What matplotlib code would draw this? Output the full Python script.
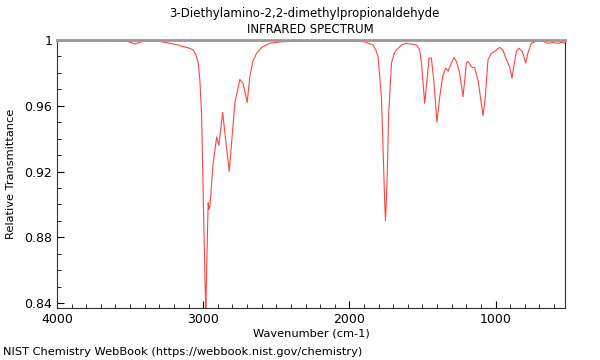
import numpy as np
import matplotlib.pyplot as plt
from matplotlib.ticker import MultipleLocator, FormatStrFormatter

# spectrum (wavenumber cm-1, relative transmittance)
wavenumber = [4000, 3800, 3600, 3520, 3467, 3420, 3364, 3300, 3228, 3180, 3137, 3100,
              3068, 3050, 3034, 3023, 3011, 3004, 2995, 2986, 2982, 2974, 2966, 2960,
              2954, 2932, 2908, 2893, 2867, 2822, 2783, 2749, 2727, 2699, 2681, 2660,
              2635, 2600, 2544, 2456, 2200, 2000, 1900, 1870, 1838, 1820, 1804, 1781,
              1770, 1758, 1753, 1742, 1731, 1712, 1695, 1678, 1640, 1610, 1541, 1519,
              1507, 1485, 1469, 1455, 1439, 1423, 1401, 1382, 1360, 1341, 1325, 1302,
              1284, 1268, 1246, 1223, 1211, 1200, 1189, 1166, 1143, 1120, 1104, 1086,
              1070, 1052, 1029, 1006, 972, 950, 926, 904, 888, 876, 858, 840, 817, 794,
              779, 755, 699, 642, 608, 574, 550, 525]
transmittance = [0.9995, 0.9998, 0.9996, 0.9992, 0.9976, 0.9990, 0.9998, 0.9992, 0.998,
                 0.9972, 0.996, 0.9952, 0.994, 0.991, 0.986, 0.976, 0.955, 0.925, 0.884,
                 0.848, 0.835, 0.870, 0.901, 0.897, 0.899, 0.925, 0.941, 0.936, 0.956,
                 0.920, 0.962, 0.976, 0.9736, 0.962, 0.9777, 0.987, 0.9919, 0.9955,
                 0.998, 0.999, 0.9995, 0.9995, 0.999, 0.998, 0.997, 0.994, 0.990, 0.9655,
                 0.935, 0.900, 0.890, 0.915, 0.9555, 0.986, 0.9915, 0.994, 0.9972, 0.998,
                 0.997, 0.994, 0.986, 0.9615, 0.9756, 0.989, 0.989, 0.9756, 0.950,
                 0.9655, 0.9787, 0.983, 0.981, 0.986, 0.9894, 0.987, 0.980, 0.9655,
                 0.9756, 0.986, 0.987, 0.9837, 0.983, 0.9756, 0.9655, 0.954, 0.9655,
                 0.988, 0.992, 0.993, 0.9955, 0.994, 0.988, 0.9837, 0.9767, 0.9837, 0.993,
                 0.995, 0.993, 0.986, 0.992, 0.998, 1.0, 0.998, 0.9984, 0.998, 0.9986,
                 0.998]

fig = plt.figure(figsize=(6, 3.6), dpi=100)
ax = fig.add_axes([0.095, 0.1444, 0.8467, 0.7445])

ax.plot(wavenumber, transmittance, color='#ff3030', linewidth=0.8, alpha=0.9)
ax.set_xlim(4000, 525)
ax.set_ylim(0.837, 1.0)

ax.xaxis.set_major_locator(MultipleLocator(1000))
ax.xaxis.set_minor_locator(MultipleLocator(100))
ax.yaxis.set_major_locator(MultipleLocator(0.04))
ax.yaxis.set_minor_locator(MultipleLocator(0.01))
ax.yaxis.set_major_formatter(FormatStrFormatter('%g'))
ax.tick_params(which='both', direction='in', top=False, right=False, labelsize=9)
ax.tick_params(which='major', length=5)
ax.tick_params(which='minor', length=3)

ax.spines['top'].set_color('#999999')
ax.spines['top'].set_linewidth(2)
for s in ['left', 'right', 'bottom']:
    ax.spines[s].set_color('#333333')

ax.set_xlabel('Wavenumber (cm-1)', fontsize=8.2, labelpad=2)
ax.set_ylabel('Relative Transmittance', fontsize=8.2, labelpad=6)

fig.text(0.508, 0.963, '3-Diethylamino-2,2-dimethylpropionaldehyde', ha='center', va='center', fontsize=8.5)
fig.text(0.518, 0.917, 'INFRARED SPECTRUM', ha='center', va='center', fontsize=8.5)
fig.text(0.005, 0.022, 'NIST Chemistry WebBook (https://webbook.nist.gov/chemistry)', ha='left', va='center', fontsize=8.2)

fig.savefig('out.png', dpi=100)
